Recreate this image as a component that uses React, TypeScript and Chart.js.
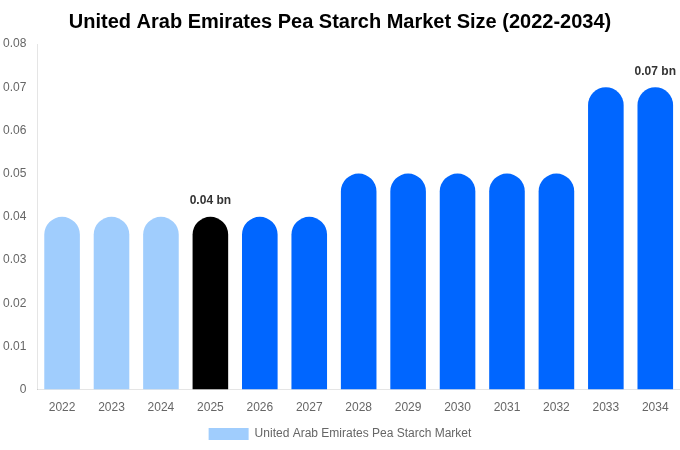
import { useEffect, useRef } from "react";
import { Chart, registerables } from "chart.js";

Chart.register(...registerables);

const years = ["2022", "2023", "2024", "2025", "2026", "2027", "2028", "2029", "2030", "2031", "2032", "2033", "2034"];
const marketSize = [0.04, 0.04, 0.04, 0.04, 0.04, 0.04, 0.05, 0.05, 0.05, 0.05, 0.05, 0.07, 0.07];
const barColors = [
  "#a0cdfd", "#a0cdfd", "#a0cdfd", "#000000",
  "#0066ff", "#0066ff", "#0066ff", "#0066ff", "#0066ff", "#0066ff", "#0066ff", "#0066ff", "#0066ff",
];
const labelled = [3, 12];

const FONT = "'Liberation Sans', Arial, sans-serif";

const valueLabels = {
  id: "valueLabels",
  afterDatasetsDraw(chart: Chart) {
    const { ctx } = chart;
    const meta = chart.getDatasetMeta(0);
    ctx.save();
    ctx.font = `bold 12px ${FONT}`;
    ctx.fillStyle = "#333333";
    ctx.textAlign = "center";
    ctx.textBaseline = "bottom";
    for (const i of labelled) {
      const bar = meta.data[i];
      ctx.fillText(`${marketSize[i]} bn`, bar.x, bar.y - 10);
    }
    ctx.restore();
  },
};

export default function App() {
  const ref = useRef<HTMLCanvasElement | null>(null);

  useEffect(() => {
    if (!ref.current) return;
    const chart = new Chart(ref.current, {
      type: "bar",
      data: {
        labels: years,
        datasets: [
          {
            label: "United Arab Emirates Pea Starch Market",
            data: marketSize,
            backgroundColor: barColors,
            borderRadius: { topLeft: 40, topRight: 40, bottomLeft: 0, bottomRight: 0 },
            borderSkipped: false,
          },
        ],
      },
      options: {
        animation: false,
        responsive: true,
        maintainAspectRatio: false,
        layout: { padding: 0 },
        plugins: {
          title: {
            display: true,
            text: "United Arab Emirates Pea Starch Market Size (2022-2034)",
            color: "#000000",
            font: { family: FONT, size: 20, weight: "bold" },
            padding: { top: 10, bottom: 10 },
          },
          legend: {
            position: "bottom",
            labels: {
              boxWidth: 40,
              boxHeight: 12,
              color: "#666666",
              font: { family: FONT, size: 12 },
            },
          },
          tooltip: { enabled: false },
        },
        scales: {
          x: {
            grid: { display: false },
            ticks: { color: "#666666", font: { family: FONT, size: 12 } },
          },
          y: {
            min: 0,
            max: 0.08,
            grid: { display: false },
            ticks: { stepSize: 0.01, color: "#666666", font: { family: FONT, size: 12 } },
          },
        },
      },
      plugins: [valueLabels],
    });
    return () => chart.destroy();
  }, []);

  return (
    <div style={{ position: "absolute", left: 0, top: 0, width: 680, height: 450 }}>
      <canvas ref={ref} />
    </div>
  );
}
